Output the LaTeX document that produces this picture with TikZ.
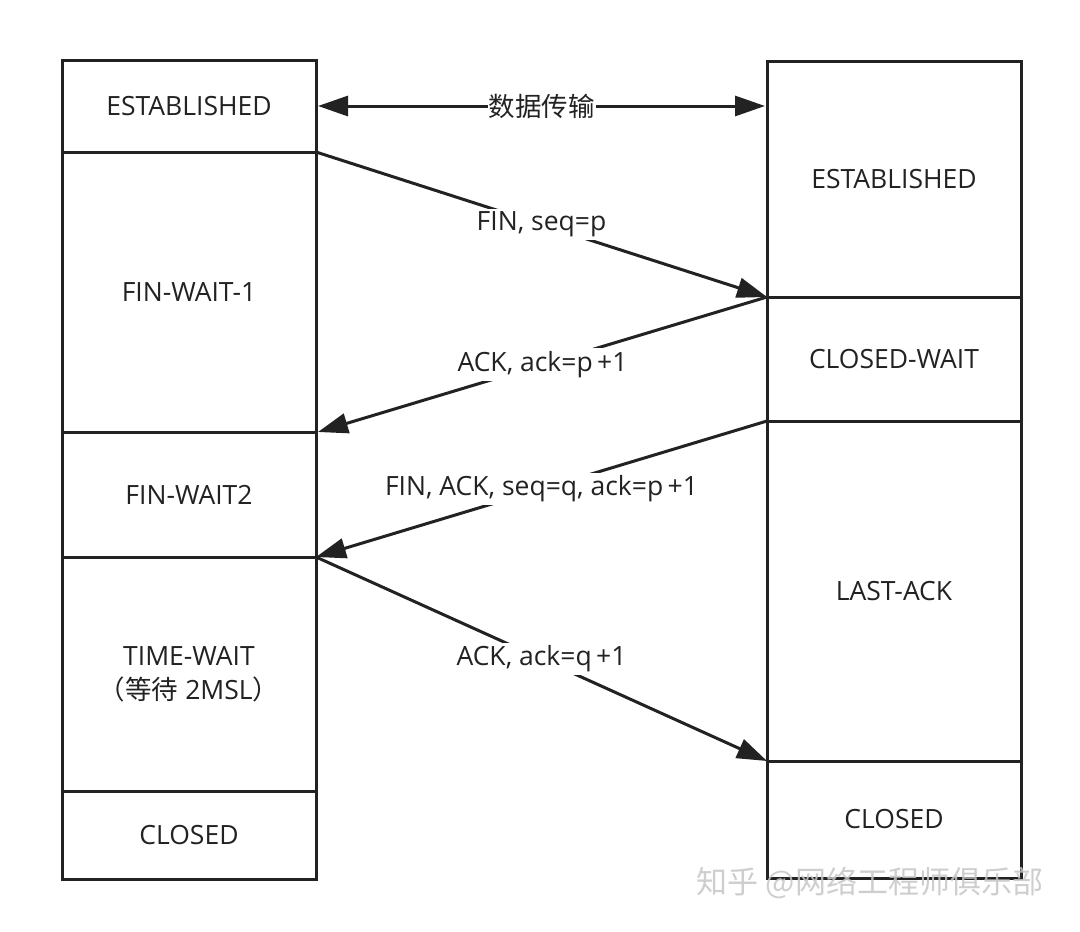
\documentclass[tikz,border=0pt]{standalone}
\usepackage{fontspec}
\setmainfont{Open Sans}
\newfontfamily\cjk{Noto Sans CJK SC}
\usetikzlibrary{arrows.meta}
\definecolor{ink}{HTML}{222222}
\tikzset{
  state/.style={draw=ink, line width=3pt, rectangle, inner sep=0pt, outer sep=0pt,
    minimum width=254pt, text=ink, align=center,
    font=\fontsize{26.5}{34}\selectfont},
  msg/.style={draw=ink, line width=3pt, -{Triangle[length=30pt,width=20pt]}},
  biarrow/.style={draw=ink, line width=3pt, {Triangle[length=30pt,width=20pt]}-{Triangle[length=30pt,width=20pt]}},
  msglabel/.style={fill=white, text=ink, inner sep=3pt, font=\fontsize{26.5}{30}\selectfont}
}
\begin{document}
\begin{tikzpicture}[x=1pt,y=-1pt]
\useasboundingbox (0,0) rectangle (1080,932);
\fill[white] (0,0) rectangle (1080,932);
% left column
\node[state, minimum height=92pt]  (L1) at (189,106)   {ESTABLISHED};
\node[state, minimum height=280pt] (L2) at (189,292)   {FIN-WAIT-1};
\node[state, minimum height=125pt] (L3) at (189,494.5) {FIN-WAIT2};
\node[state, minimum height=234pt] (L4) at (189,674)   {TIME-WAIT\\{\cjk （等待}\ 2MSL{\cjk ）}};
\node[state, minimum height=88pt]  (L5) at (189,835)   {CLOSED};
% right column
\node[state, minimum height=236pt] (R1) at (894,179)   {ESTABLISHED};
\node[state, minimum height=124pt] (R2) at (894,359)   {CLOSED-WAIT};
\node[state, minimum height=340pt] (R3) at (894,591)   {LAST-ACK};
\node[state, minimum height=117pt] (R4) at (894,819.5) {CLOSED};
% data transfer
\draw[biarrow] ([xshift=2pt]L1.east) -- ([xshift=-2pt]L1.east -| R1.west)
  node[midway, msglabel, inner sep=1pt] {\cjk 数据传输};
% messages
\draw[msg] (L1.south east) -- (R1.south west) node[midway, msglabel] {FIN, seq=p};
\draw[msg] (R1.south west) -- ([xshift=2pt]L2.south east) node[midway, msglabel] {ACK, ack=p\,+1};
\draw[msg] (R2.south west) -- (L3.south east) node[midway, msglabel] {FIN, ACK, seq=q, ack=p\,+1};
\draw[msg] (L3.south east) -- (R3.south west) node[midway, msglabel] {ACK, ack=q\,+1};
% watermark
\node[text=gray!45, opacity=0.85, font=\cjk\fontsize{31}{34}\selectfont] (wm) at (870,883) {知乎 @网络工程师俱乐部};
\end{tikzpicture}
\end{document}
